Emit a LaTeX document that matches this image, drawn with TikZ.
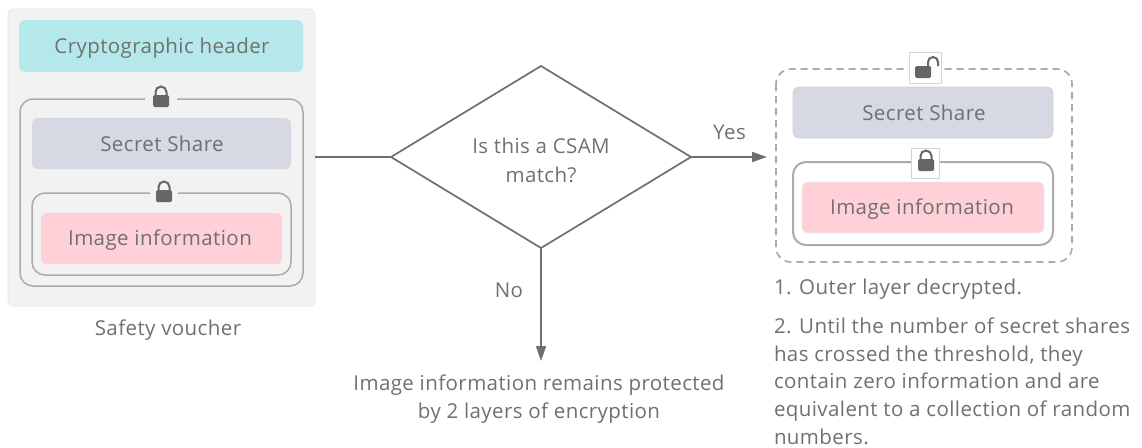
\documentclass[tikz,border=0pt]{standalone}
\usepackage{fontspec}
\setmainfont[LetterSpace=2]{Open Sans}
\usetikzlibrary{shapes.geometric,arrows.meta}
\definecolor{ink}{HTML}{707070}
\definecolor{lineg}{HTML}{6F6F6F}
\definecolor{frameg}{HTML}{ABABAB}
\definecolor{panelg}{HTML}{F2F2F2}
\definecolor{hdrc}{HTML}{B5E8EB}
\definecolor{sharec}{HTML}{D6D8E4}
\definecolor{imgc}{HTML}{FFD0D7}
\definecolor{lockc}{HTML}{666666}
\definecolor{boxg}{HTML}{D4D4D4}
\tikzset{
  x=1pt,y=-1pt,
  every node/.style={font=\fontsize{20.5}{28.4}\selectfont,text=ink,inner sep=0pt,outer sep=0pt,align=center},
  blockbox/.style={rectangle,rounded corners=6pt,minimum width=#1,minimum height=51pt},
  lbl/.style={anchor=center},
  panel/.style={fill=panelg,draw=black!10,line width=.6pt,rounded corners=5pt},
  frameline/.style={draw=frameg,line width=1.5pt,rounded corners=13pt},
  dashline/.style={draw=frameg,line width=1.7pt,dash pattern=on 7pt off 5pt,rounded corners=15pt},
  conn/.style={draw=lineg,line width=1.7pt},
  arrowconn/.style={conn,-{Triangle[length=15pt,width=10pt]}},
  pics/closedlock/.style={code={
    \draw[lockc,line width=2pt] (-5.5,0) -- (-5.5,-4) arc[start angle=180,end angle=0,x radius=5.5,y radius=-5.5] -- (5.5,0);
    \fill[lockc,rounded corners=1.5pt] (-8,-1) rectangle (8,11);
  }},
  pics/openlock/.style={code={
    \fill[lockc,rounded corners=1.5pt] (-8,-6) rectangle (8,6);
    \draw[lockc,line width=2pt] (5,-6) -- (5,-10) arc[start angle=180,end angle=0,x radius=5,y radius=-5] -- (15,-6);
  }},
}
\begin{document}
\begin{tikzpicture}
\useasboundingbox (0,0) rectangle (1142,447);
% left panel
\node[panel,minimum width=307pt,minimum height=297pt] (voucher) at (161.5,157.5) {};
\node[blockbox=284pt,fill=hdrc,minimum height=52pt] (hdr) at (161,46) {};
\node[lbl] (hdrt) at (162,48.5) {Cryptographic header};
\draw[frameline] (20,99) rectangle (303,286);
\fill[panelg] (145,92) rectangle (177,106);
\pic at (161,96) {closedlock};
\node[blockbox=259pt,fill=sharec] (shareL) at (161.5,143.5) {};
\node[lbl] (shareLt) at (162,143.5) {Secret Share};
\draw[frameline] (32,193) rectangle (291,275);
\fill[panelg] (150,186) rectangle (178,200);
\pic at (164,191) {closedlock};
\node[blockbox=241pt,fill=imgc] (imgL) at (161.5,238.5) {};
\node[lbl] (imgLt) at (160,240.5) {Image information};
\node (vlabel) at (168,330) {Safety voucher};
% decision
\node[diamond,draw=lineg,line width=1.7pt,minimum width=300pt,minimum height=182pt,aspect=1.65] (dec) at (541,157) {};
\node (dect) at (541,160.5) {Is this a CSAM\\match?};
\draw[conn] (voucher.east |- dec.west) -- (dec.west);
\coordinate (yesend) at (767,157);
\coordinate (noend) at (541,361);
\draw[arrowconn] (dec.east) -- (yesend);
\draw[arrowconn] (dec.south) -- (noend);
\node (yes) at (729.5,132) {Yes};
\node (no) at (509,290) {No};
\node (prot) at (539,399) {Image information remains protected\\by 2 layers of encryption};
% right panel
\draw[dashline] (776,69) rectangle (1072,262);
\node[draw=boxg,fill=white,line width=.6pt,minimum width=32pt,minimum height=31pt] (ubox) at (925,67.5) {};
\pic at (923,72) {openlock};
\node[blockbox=260pt,fill=sharec,draw=black!18,line width=.6pt] (shareR) at (923,112.5) {};
\node[lbl] (shareRt) at (924,112.5) {Secret Share};
\draw[frameline,line width=2pt] (793,162) rectangle (1053,245);
\node[draw=boxg,fill=white,line width=.6pt,minimum width=28pt,minimum height=30pt] (lbox) at (925,163) {};
\pic at (926,160) {closedlock};
\node[blockbox=242pt,fill=imgc,draw=black!8,line width=.6pt] (imgR) at (923,207.5) {};
\node[lbl] (imgRt) at (922,209.5) {Image information};
\node[anchor=west] (n1) at (774,289) {1. Outer layer decrypted.};
\node[anchor=north west,align=left,font=\fontsize{20.5}{27.9}\selectfont] (n2) at (774,317.5) {2. Until the number of secret shares\\has crossed the threshold, they\\contain zero information and are\\equivalent to a collection of random\\numbers.};
\end{tikzpicture}
\end{document}
